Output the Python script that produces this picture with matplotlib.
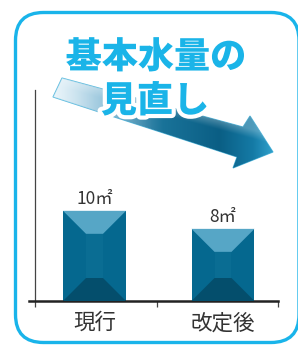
import matplotlib
matplotlib.use('Agg')
import matplotlib.pyplot as plt
import numpy as np
from matplotlib.patches import Polygon, FancyBboxPatch
import matplotlib.patheffects as pe

categories = ['現行', '改定後']
values = [10, 8]
value_labels = ['10㎡', '8㎡']
title_lines = ['基本水量の', '見直し']

plt.rcParams['font.family'] = ['Noto Sans CJK JP', 'DejaVu Sans']

W, H = 298, 345
fig = plt.figure(figsize=(W / 100, H / 100), dpi=100)
fig.patch.set_facecolor('white')

# ---------------- main bar axes ----------------
ax = fig.add_axes([29 / W, 44 / H, 249 / W, 211 / H])
ax.set_facecolor('none')
x = np.arange(len(categories))
xmin, xmax = -0.5097, 1.428
ax.set_xlim(xmin, xmax)
ax.set_ylim(0, 23.4)
bw = 0.49
ax.bar(x, values, width=bw, color='#05688f', zorder=2)

# bevel overlay (pixel-based bevel size converted into data units)
p0 = ax.transData.transform((0, 0))
p1 = ax.transData.transform((1, 1))
px_x, px_y = p1[0] - p0[0], p1[1] - p0[1]
bev_px = 23
bx, by = bev_px / px_x, bev_px / px_y
for xc, v in zip(x, values):
    x0, x1 = xc - bw / 2, xc + bw / 2
    ax.add_patch(Polygon([(x0 + bx, by), (x1 - bx, by), (x1 - bx, v - by), (x0 + bx, v - by)],
                         closed=True, fc='#0a6d93', ec='none', zorder=3))
    ax.add_patch(Polygon([(x0, v), (x1, v), (x1 - bx, v - by), (x0 + bx, v - by)],
                         closed=True, fc='#56a6c6', ec='none', zorder=3))
    ax.add_patch(Polygon([(x0, 0), (x1, 0), (x1 - bx, by), (x0 + bx, by)],
                         closed=True, fc='#044e6c', ec='none', zorder=3))

for xc, v, lab in zip(x, values, value_labels):
    ax.annotate(lab, (xc, v), xytext=(0, 12), textcoords='offset pixels',
                ha='center', va='center', fontsize=12.5, color='#333333',
                fontweight='normal')

ax.set_xticks(x)
ax.set_xticklabels(categories, fontsize=15.5, color='#333333')
ax.tick_params(axis='x', which='major', length=0, pad=8)
ax.set_xticks([-0.463, 0.486, 1.426], minor=True)
ax.tick_params(axis='x', which='minor', length=4, width=0.9, color='#444444', direction='out')
ax.set_yticks([])
for s in ['top', 'right']:
    ax.spines[s].set_visible(False)
ax.spines['left'].set_position(('axes', 6 / 249))
ax.spines['left'].set_color('#444444')
ax.spines['left'].set_linewidth(0.9)
ax.spines['bottom'].set_color('#222222')
ax.spines['bottom'].set_linewidth(1.8)

# ---------------- decoration overlay ----------------
ov = fig.add_axes([0, 0, 1, 1], zorder=3)
ov.set_xlim(0, W)
ov.set_ylim(H, 0)
ov.axis('off')

border = FancyBboxPatch((15.5, 12.5), 283.5, 330, boxstyle='round,pad=0,rounding_size=28',
                        fill=False, ec='#19b4ea', lw=2.4)
ov.add_patch(border)

arrow_pts = [(62, 78), (243, 127), (250, 116), (273, 152), (233, 168), (237, 157), (53, 97)]
arrow = Polygon(arrow_pts, closed=True, fc='none', ec='#2ea9d6', lw=0.8, alpha=0.8)
ov.add_patch(arrow)
ax0, ax1_, ay0, ay1 = 50, 276, 72, 172
nx, ny = 240, 110
gx = np.linspace(0, 1, nx)
gy = np.linspace(0, 1, ny)
GX, GY = np.meshgrid(gx, gy)
stops_t = [0.0, 0.25, 0.5, 0.75, 0.9, 1.0]
stops_c = [(0.85, 0.93, 0.97), (0.50, 0.72, 0.83), (0.10, 0.45, 0.60),
           (0.04, 0.37, 0.52), (0.08, 0.48, 0.65), (0.20, 0.65, 0.82)]
img = np.zeros((ny, nx, 4))
for k in range(3):
    img[..., k] = np.interp(GX, stops_t, [c[k] for c in stops_c])
img[..., 3] = np.interp(GX, [0, 0.2, 0.45, 1], [0.45, 0.8, 1.0, 1.0])
# lighter top face
py = ay0 + GY * (ay1 - ay0)
pxx = ax0 + GX * (ax1_ - ax0)
top_line = 78 + (pxx - 62) * (127 - 78) / (243 - 62)
face = np.clip(1 - (py - top_line) / 9, 0, 1) * 0.25
for k in range(3):
    img[..., k] = img[..., k] * (1 - face) + face
im = ov.imshow(img, extent=(ax0, ax1_, ay1, ay0), origin='upper', aspect='auto',
               interpolation='bilinear', zorder=1)
clip = Polygon(arrow_pts, closed=True, transform=ov.transData)
im.set_clip_path(clip)
ov.set_xlim(0, W)
ov.set_ylim(H, 0)

stroke = [pe.withStroke(linewidth=6, foreground='white')]
ov.text(156, 57, title_lines[0], ha='center', va='center', fontsize=26, fontweight='black',
        color='#1ab4e8', path_effects=stroke, zorder=5)
ov.text(155, 101, title_lines[1], ha='center', va='center', fontsize=26, fontweight='black',
        color='#1ab4e8', path_effects=stroke, zorder=5)

fig.savefig('out.png', dpi=100)
